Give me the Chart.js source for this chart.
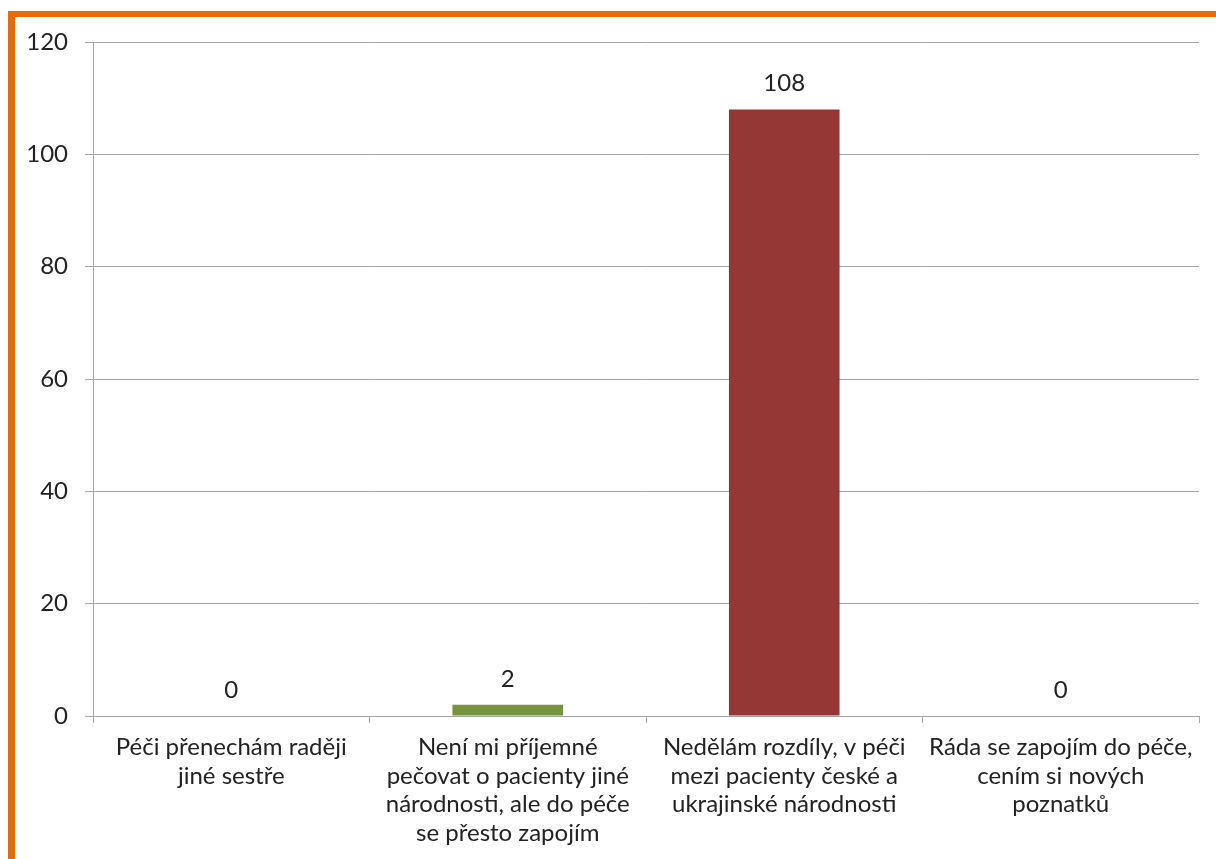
<!DOCTYPE html>
<html>
<head>
<meta charset="utf-8">
<script src="https://cdn.jsdelivr.net/npm/chart.js@4/dist/chart.umd.min.js"></script>
<style>
  html, body { margin: 0; padding: 0; background: #ffffff; }
  #wrap { position: relative; width: 1216px; height: 859px; overflow: hidden; }
  #frame {
    position: absolute; left: 8px; top: 11px; right: -20px; bottom: -20px;
    border-left: 7px solid #E46C0A; border-top: 6px solid #E46C0A;
    box-sizing: border-box;
  }
  canvas { position: absolute; left: 0; top: 0; }
</style>
</head>
<body>
<div id="wrap">
  <div id="frame"></div>
  <canvas id="c" width="1216" height="859"></canvas>
</div>
<script>
// Survey answers and counts
const categories = [
  ["Péči přenechám raději", "jiné sestře"],
  ["Není mi příjemné", "pečovat o pacienty jiné", "národnosti, ale do péče", "se přesto zapojím"],
  ["Nedělám rozdíly, v péči", "mezi pacienty české a", "ukrajinské národnosti"],
  ["Ráda se zapojím do péče,", "cením si nových", "poznatků"]
];
const counts = [0, 2, 108, 0];
const barColors = ["#4F81BD", "#77933C", "#953735", "#8064A2"];
const yTicks = [0, 20, 40, 60, 80, 100, 120];

const FONT = "Lato, 'Open Sans', sans-serif";
const TEXT = "#222222";
const GRID = "#A6A6A6";

const valueLabels = {
  id: "valueLabels",
  afterDatasetsDraw(chart) {
    const ctx = chart.ctx;
    const meta = chart.getDatasetMeta(0);
    ctx.save();
    ctx.font = "24px " + FONT;
    ctx.fillStyle = TEXT;
    ctx.textAlign = "center";
    ctx.textBaseline = "middle";
    meta.data.forEach((bar, i) => {
      ctx.fillText(String(counts[i]), bar.x, bar.y - 26);
    });
    ctx.restore();
  }
};

new Chart(document.getElementById("c"), {
  type: "bar",
  data: {
    labels: categories,
    datasets: [{
      data: counts,
      backgroundColor: barColors,
      borderWidth: 0,
      barPercentage: 0.4,
      categoryPercentage: 1.0
    }]
  },
  options: {
    responsive: false,
    animation: false,
    devicePixelRatio: 1,
    layout: { padding: { left: 0, right: 17, top: 42, bottom: 0 } },
    plugins: { legend: { display: false }, tooltip: { enabled: false } },
    scales: {
      x: {
        offset: true,
        afterFit(axis) { axis.height = 143; },
        grid: {
          offset: true,
          drawOnChartArea: false,
          drawTicks: true,
          tickLength: 7,
          color: GRID,
          lineWidth: 1
        },
        border: { color: GRID, width: 1 },
        ticks: {
          maxRotation: 0,
          autoSkip: false,
          padding: 10,
          color: TEXT,
          font: { family: FONT, size: 24, lineHeight: 1.19 }
        }
      },
      y: {
        min: 0,
        max: 120,
        afterFit(axis) { axis.width = 93; },
        afterBuildTicks(axis) { axis.ticks = yTicks.map(v => ({ value: v })); },
        grid: {
          color: GRID,
          lineWidth: 1,
          tickLength: 8
        },
        border: { color: GRID, width: 1 },
        ticks: {
          padding: 17,
          color: TEXT,
          font: { family: FONT, size: 24 }
        }
      }
    }
  },
  plugins: [valueLabels]
});
</script>
</body>
</html>
